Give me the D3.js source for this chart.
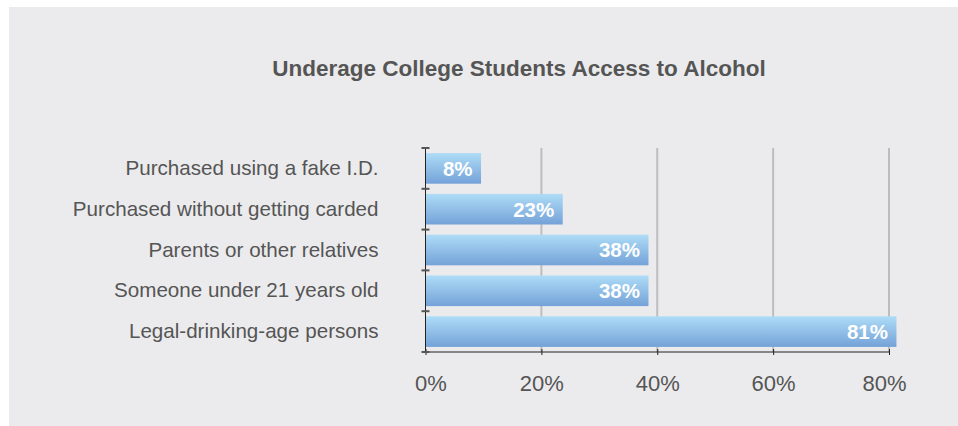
<!DOCTYPE html>
<html>
<head>
<meta charset="utf-8">
<script src="https://cdn.jsdelivr.net/npm/d3@7"></script>
<style>
  body { margin: 0; background: #fff; }
  svg { display: block; font-family: "Liberation Sans", Arial, sans-serif; }
</style>
</head>
<body>
<div id="chart"></div>
<script>
/* Daten */
var categories = ["Purchased using a fake I.D.", "Purchased without getting carded", "Parents or other relatives", "Someone under 21 years old", "Legal-drinking-age persons"];
var values = [9.5, 23.6, 38.4, 38.4, 81.2];
var valueLabels = ["8%", "23%", "38%", "38%", "81%"];
var ticks = [0, 20, 40, 60, 80];

var W = 958, H = 426;
var margin = {top: 148, left: 425.5, right: 69, bottom: 74};
var width = W - margin.left - margin.right,
    height = H - margin.top - margin.bottom;

var svg = d3.select("#chart").append("svg").attr("width", W).attr("height", H);
svg.append("rect").attr("x", 9).attr("y", 7).attr("width", W - 9).attr("height", H - 7).attr("fill", "#ebebed");

var defs = svg.append("defs");
var grad = defs.append("linearGradient").attr("id", "barGrad").attr("x1", 0).attr("y1", 0).attr("x2", 0).attr("y2", 1);
grad.append("stop").attr("offset", "0%").attr("stop-color", "#aedcf7");
grad.append("stop").attr("offset", "100%").attr("stop-color", "#74a2d8");

svg.append("text").attr("x", 519).attr("y", 76).attr("text-anchor", "middle")
  .attr("font-size", "22.5px").attr("font-weight", "bold").attr("fill", "#555")
  .text("Underage College Students Access to Alcohol");

var g = svg.append("g").attr("transform", "translate(" + margin.left + "," + margin.top + ")");

var x = d3.scaleLinear().domain([0, 80]).range([0, 463.5]);
var y = d3.scaleBand().domain(categories).range([0, height]).paddingInner(0.25).paddingOuter(0.125);

/* Gitterlinien */
g.append("g").selectAll("line").data(ticks.slice(1)).enter().append("line")
  .attr("x1", function(d) {return x(d);}).attr("x2", function(d) {return x(d);})
  .attr("y1", 0).attr("y2", height)
  .attr("stroke", "#bdbdbd").attr("stroke-width", 2);

/* Balken */
g.append("g").selectAll("rect").data(values).enter().append("rect")
  .attr("x", 0.5).attr("y", function(d, i) {return y(categories[i]);})
  .attr("width", function(d) {return x(d);}).attr("height", y.bandwidth())
  .attr("fill", "url(#barGrad)");

g.append("g").selectAll("text").data(values).enter().append("text")
  .attr("x", function(d) {return x(d) - 8;})
  .attr("y", function(d, i) {return y(categories[i]) + y.bandwidth() / 2;})
  .attr("dy", ".36em").attr("text-anchor", "end")
  .attr("font-size", "20.5px").attr("font-weight", "bold").attr("fill", "#fff")
  .text(function(d, i) {return valueLabels[i];});

/* Achsen */
var xAxis = g.append("g").attr("transform", "translate(0," + height + ")")
  .call(d3.axisBottom(x).tickValues(ticks).tickSize(6).tickSizeOuter(0).tickFormat(function(d) {return d + "%";}));
xAxis.select(".domain").attr("stroke", "#222").attr("d", "M0,0H" + x(80));
xAxis.selectAll(".tick line").attr("stroke", "#222").attr("y1", -3).attr("y2", 3);
xAxis.selectAll(".tick text").attr("x", function(d) {return d === 0 ? 5 : (d === 80 ? -5 : 0);})
  .attr("y", 23).attr("dy", ".71em").attr("font-size", "22px").attr("fill", "#555").attr("font-family", "Liberation Sans, Arial, sans-serif");

var yAxis = g.append("g").call(d3.axisLeft(y).tickSize(0).tickPadding(47));
yAxis.select(".domain").attr("stroke", "#222").attr("d", "M0,0V" + height);
yAxis.selectAll(".tick text").attr("font-size", "20.6px").attr("fill", "#555").attr("font-family", "Liberation Sans, Arial, sans-serif");
var bandTicks = d3.range(categories.length + 1).map(function(i) {return i * height / categories.length;});
yAxis.selectAll(".bt").data(bandTicks).enter().append("line").attr("class", "bt")
  .attr("x1", -4).attr("x2", 4).attr("y1", function(d) {return d;}).attr("y2", function(d) {return d;})
  .attr("stroke", "#555").attr("stroke-width", 2);
</script>
</body>
</html>
